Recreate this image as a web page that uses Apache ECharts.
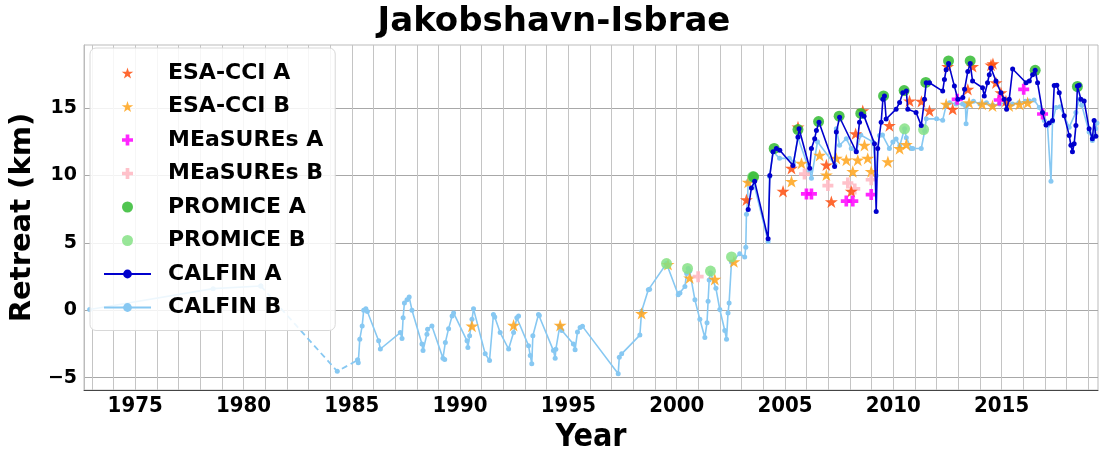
<!DOCTYPE html>
<html>
<head>
<meta charset="utf-8">
<script src="https://cdn.jsdelivr.net/npm/echarts@6/dist/echarts.min.js"></script>
<style>
html,body{margin:0;padding:0;background:#fff;}
#chart{width:1108px;height:459px;}
</style>
</head>
<body>
<div id="chart"></div>
<script>
// ---- Data (year, retreat km) ----
const tickYears = [];
for (let y = 1973; y <= 2019; y++) tickYears.push(y);
const labelYears = [1975, 1980, 1985, 1990, 1995, 2000, 2005, 2010, 2015];
const yTicks = [-5, 0, 5, 10, 15];
const legendNames = ['ESA-CCI A','ESA-CCI B','MEaSUREs A','MEaSUREs B','PROMICE A','PROMICE B','CALFIN A','CALFIN B'];

const esaA = [[2004.91,8.83],[2005.3,10.53],[2005.6,13.6],[2006.91,10.78],[2007.14,8.05],[2008.06,8.83],[2008.26,13.1],[2008.59,14.8],
  [2009.82,13.7],[2010.75,15.53],[2011.3,15.5],[2011.67,14.8],[2012.51,18.09],[2012.74,14.92],[2013.44,16.39],[2013.66,18.09],
  [2014.51,18.2],[2014.6,18.3],[2014.74,16.88],[2014.97,16.14],[2015.2,15.53],[2003.22,8.2]];
const esaB = [[1990.55,-1.17],[1992.47,-1.12],[1994.62,-1.12],[1998.38,-0.24],[1999.6,3.4],[2000.6,2.4],[2001.76,2.29],[2002.64,3.6],
  [2003.3,9.5],[2005.3,9.56],[2005.76,10.9],[2006.6,11.5],[2006.91,10.04],[2007.37,11.27],[2007.83,11.14],[2008.13,10.29],
  [2008.36,11.14],[2008.67,12.24],[2008.82,11.27],[2008.98,10.29],[2009.75,11.02],[2010.29,12.0],[2010.6,12.3],
  [2012.44,15.29],[2013.5,15.4],[2014.1,15.3],[2014.58,15.17],[2015.35,15.17],[2015.82,15.29],[2016.2,15.4]];
const measuresA = [[2005.99,8.63],[2006.22,8.63],[2007.83,8.1],[2008.13,8.1],[2008.98,8.58],[2012.95,15.65],[2014.89,15.6],
  [2016.02,16.39],[2016.89,14.56]];
const measuresB = [[2000.99,2.49],[2005.9,10.1],[2006.98,9.25],[2007.9,9.44],[2008.22,9.0],[2008.98,9.68]];
const promiceA = [[2003.55,9.9],[2004.5,12.0],[2005.6,13.4],[2006.55,14.0],[2007.5,14.4],[2008.5,14.6],[2009.55,15.9],
  [2010.5,16.3],[2011.5,16.9],[2012.55,18.5],[2013.55,18.5],[2016.55,17.8],[2018.5,16.6]];
const promiceB = [[1999.53,3.46],[2000.5,3.1],[2001.56,2.9],[2002.53,3.95],[2003.5,9.9],[2010.52,13.46],[2011.4,13.4]];

const calfinA = [[2003.3,7.48],[2003.45,9.07],[2003.6,9.56],[2004.22,5.3],[2004.3,10.0],[2004.45,11.76],[2004.6,12.0],[2004.76,11.87],
  [2005.37,10.73],[2005.6,12.85],[2005.65,13.46],[2006.14,10.53],[2006.22,12.0],[2006.37,12.73],[2006.45,13.34],[2006.57,13.95],
  [2007.29,10.66],[2007.37,13.22],[2007.52,14.32],[2008.29,11.76],[2008.44,13.95],[2008.52,14.56],[2008.65,14.4],[2009.13,12.36],
  [2009.21,7.32],[2009.28,12.0],[2009.44,13.95],[2009.52,15.65],[2009.59,15.9],[2009.67,14.19],[2010.13,14.92],[2010.29,15.41],
  [2010.44,16.14],[2010.6,16.26],[2010.67,14.92],[2011.05,14.68],[2011.29,13.7],[2011.44,15.65],[2011.52,16.88],[2011.67,16.88],
  [2012.28,16.26],[2012.36,17.12],[2012.44,17.85],[2012.55,18.3],[2012.82,16.63],[2012.98,15.65],[2013.21,15.78],[2013.29,16.39],
  [2013.44,17.72],[2013.55,18.3],[2013.66,17.0],[2014.12,16.51],[2014.2,15.9],[2014.35,16.88],[2014.43,17.48],[2014.51,17.97],
  [2014.74,17.0],[2014.97,16.14],[2015.12,15.65],[2015.23,14.92],[2015.35,15.65],[2015.51,17.9],[2016.13,16.88],[2016.28,17.0],
  [2016.43,17.48],[2016.55,17.8],[2016.66,16.88],[2016.89,14.68],[2017.05,13.75],[2017.2,13.9],[2017.35,14.07],[2017.43,16.68],
  [2017.55,16.7],[2017.66,16.14],[2017.89,14.43],[2018.12,12.97],[2018.2,12.24],[2018.27,11.76],[2018.35,12.36],[2018.43,13.7],
  [2018.5,16.63],[2018.58,16.7],[2018.66,15.65],[2018.81,15.53],[2019.04,13.46],[2019.19,12.73],[2019.27,14.07],[2019.35,12.9]];

const calfinB = [[1972.9,0.05],[1978.6,1.6],[1980.8,1.8],[1980.81,null],
  [1985.27,-3.7],[1985.3,-3.9],[1985.37,-2.15],[1985.48,-1.17],[1985.55,0.0],[1985.65,0.1],[1985.72,-0.1],[1986.24,-2.27],
  [1986.32,-2.88],[1987.24,-1.66],[1987.32,-2.1],[1987.37,-0.56],[1987.43,0.54],[1987.55,0.78],[1987.65,0.97],[1987.78,0.0],
  [1988.24,-2.51],[1988.29,-3.0],[1988.47,-1.78],[1988.5,-1.41],[1988.7,-1.17],[1989.21,-3.56],[1989.29,-3.66],[1989.32,-2.39],
  [1989.47,-1.37],[1989.63,-0.44],[1989.7,-0.2],[1990.32,-2.27],[1990.36,-2.76],[1990.44,-1.9],[1990.55,-0.68],[1990.62,0.1],
  [1991.16,-3.24],[1991.36,-3.73],[1991.54,-0.32],[1991.6,-0.5],[1991.85,-1.66],[1992.24,-2.88],[1992.47,-1.66],[1992.62,-0.56],
  [1992.7,-0.44],[1993.16,-2.63],[1993.24,-3.37],[1993.31,-3.97],[1993.36,-1.9],[1993.62,-0.32],[1993.66,-0.4],[1994.31,-3.0],
  [1994.39,-3.56],[1994.42,-2.9],[1994.6,-1.2],[1994.7,-1.5],[1995.23,-2.51],[1995.31,-2.93],[1995.42,-1.61],[1995.54,-1.29],
  [1995.65,-1.2],[1997.3,-4.71],[1997.35,-3.49],[1997.46,-3.24],[1998.3,-1.85],[1998.38,-0.07],[1998.69,1.51],[1998.75,1.55],
  [1999.53,3.46],[2000.07,1.15],[2000.15,1.27],[2000.38,1.76],[2000.46,2.73],[2000.53,3.1],[2000.6,2.9],[2000.84,0.78],
  [2001.07,-0.68],[2001.3,-2.03],[2001.4,-0.93],[2001.45,0.66],[2001.5,2.24],[2001.56,2.78],[2001.81,1.63],[2001.99,0.05],
  [2002.22,-1.51],[2002.3,-2.15],[2002.37,-0.2],[2002.42,0.54],[2002.53,3.58],[2002.91,4.19],[2003.14,3.95],[2003.19,4.68],
  [2003.22,7.12],[2003.27,8.1],[2003.3,9.56],[2003.37,9.68],[2003.5,9.8],[2004.22,5.1],[2004.29,9.93],[2004.45,11.76],
  [2004.75,11.27],[2005.2,11.27],[2005.4,11.0],[2005.6,12.8],[2006.14,10.3],[2006.22,9.8],[2006.5,12.5],[2007.3,10.8],
  [2007.37,13.46],[2007.52,12.24],[2007.83,12.73],[2008.06,12.0],[2008.29,11.8],[2008.5,13.0],[2009.06,12.49],[2009.21,10.0],
  [2009.36,12.97],[2009.5,13.0],[2009.82,12.0],[2009.98,12.49],[2010.13,12.7],[2010.3,12.2],[2010.52,13.46],[2010.6,12.8],
  [2010.83,12.0],[2010.9,12.0],[2011.29,12.0],[2011.45,13.3],[2011.52,14.2],[2012.0,14.2],[2012.28,14.1],[2012.44,15.2],
  [2012.6,15.4],[2012.9,15.3],[2013.2,15.3],[2013.33,15.17],[2013.36,13.83],[2013.45,15.3],[2013.7,15.5],[2014.0,15.3],
  [2014.3,15.4],[2014.6,15.2],[2014.9,15.3],[2015.2,15.4],[2015.5,15.3],[2015.8,15.4],[2016.1,15.5],[2016.28,15.53],
  [2016.5,15.6],[2016.74,15.05],[2016.97,14.07],[2017.12,13.7],[2017.28,9.56],[2017.35,14.0],[2017.51,15.05],[2017.7,15.1],
  [2018.12,13.58],[2018.43,14.68],[2018.58,15.65],[2018.7,15.2],[2019.04,13.22],[2019.19,12.6],[2019.34,13.46],[2019.4,13.9]];
const calfinBGap = [[1980.8,1.8],[1984.33,-4.54],[1985.27,-3.7]];

// ---- Styling ----
const STAR = 'path://M0,-100L-22.45,-30.9L-95.1,-30.9L-36.33,11.8L-58.8,80.9L0,38.2L58.8,80.9L36.33,11.8L95.1,-30.9L22.45,-30.9Z';
const PLUS = 'path://M-1,-3H1V-1H3V1H1V3H-1V1H-3V-1H-1Z';
const FONT = "'DejaVu Sans', sans-serif";
const NARROW = "'Liberation Sans Narrow', 'DejaVu Sans Condensed', sans-serif";

function scatter(name, data, symbol, size, color) {
  return {name, type:'scatter', data, symbol, symbolSize:size, symbolKeepAspect:true, z:3,
    itemStyle:{color, opacity:0.85}};
}

const chart = echarts.init(document.getElementById('chart'), null, {renderer:'canvas'});
chart.setOption({
  animation:false,
  backgroundColor:'#fff',
  title:{text:'Jakobshavn-Isbrae', left:'center', top:0,
    textStyle:{fontFamily:FONT, fontWeight:'bold', fontSize:34, color:'#000'}},
  grid:{left:83, right:10, top:45, bottom:64, show:true, borderColor:'#bbb', borderWidth:1},
  legend:{
    data:legendNames, orient:'vertical', left:90, top:48,
    padding:[14,12,12,13], itemWidth:47, itemHeight:11, itemGap:11.5,
    backgroundColor:'rgba(255,255,255,0.85)', borderColor:'#d8d8d8', borderWidth:1, borderRadius:6,
    textStyle:{fontFamily:FONT, fontWeight:'bold', fontSize:22, lineHeight:22, color:'#000', padding:[0,0,0,12]}
  },
  xAxis:{
    type:'value', min:1972.64, max:2019.45,
    name:'Year', nameLocation:'middle', nameGap:31,
    nameTextStyle:{fontFamily:NARROW, fontWeight:'bold', fontSize:32, color:'#000'},
    axisLine:{show:true, onZero:false, lineStyle:{color:'#444', width:1}},
    axisTick:{show:false, customValues:tickYears},
    axisLabel:{customValues:labelYears, fontFamily:NARROW, fontWeight:'bold', fontSize:22, color:'#000', margin:5,
      formatter:v => String(v)},
    splitLine:{show:true, lineStyle:{color:'#c4c4c4', width:1}}
  },
  yAxis:{
    type:'value', min:-5.93, max:19.68,
    name:'Retreat (km)', nameLocation:'middle', nameGap:42,
    nameTextStyle:{fontFamily:FONT, fontWeight:'bold', fontSize:29, color:'#000'},
    axisLine:{show:true, onZero:false, lineStyle:{color:'#bbb'}},
    axisTick:{show:false, customValues:yTicks},
    axisLabel:{customValues:yTicks, fontFamily:FONT, fontWeight:'bold', fontSize:19, color:'#000', margin:7,
      formatter:v => String(v).replace('-', '\u2212')},
    splitLine:{show:true, lineStyle:{color:'#a8a8a8', width:1.2}}
  },
  series:[
    {name:'CALFIN B', type:'line', data:calfinB, z:2, connectNulls:false, symbol:'circle', symbolSize:5, showSymbol:true,
      lineStyle:{color:'#87c8f2', width:1.6}, itemStyle:{color:'#87c8f2'}},
    {name:'CALFIN B gap', type:'line', data:calfinBGap, z:2, symbol:'circle', symbolSize:5,
      lineStyle:{color:'#87c8f2', width:1.8, type:[6,4]}, itemStyle:{color:'#87c8f2'}},
    scatter('ESA-CCI B', esaB, STAR, 13, '#ffa31a'),
    scatter('MEaSUREs B', measuresB, PLUS, 11, '#ffb6c1'),
    scatter('PROMICE B', promiceB, 'circle', 11, '#86e286'),
    scatter('ESA-CCI A', esaA, STAR, 13, '#ff4d0d'),
    scatter('MEaSUREs A', measuresA, PLUS, 11, '#ff00ff'),
    scatter('PROMICE A', promiceA, 'circle', 11, '#33bb33'),
    {name:'CALFIN A', type:'line', data:calfinA, z:4, symbol:'circle', symbolSize:5,
      lineStyle:{color:'#0000cd', width:1.6}, itemStyle:{color:'#0000cd'}}
  ]
});
</script>
</body>
</html>
